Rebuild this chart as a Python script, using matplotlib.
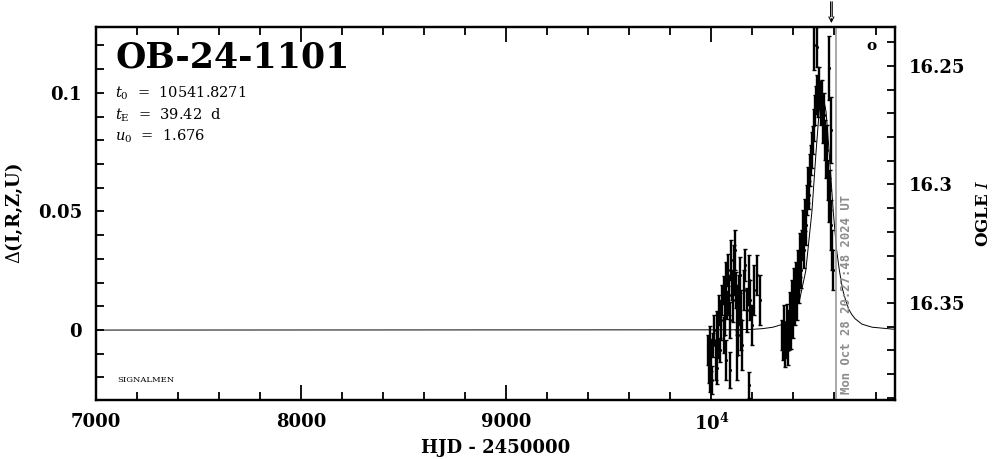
import matplotlib
matplotlib.use("Agg")
import matplotlib.pyplot as plt
from matplotlib.ticker import MultipleLocator, FixedLocator, FixedFormatter

plt.rcParams['font.family'] = ['DejaVu Serif']
plt.rcParams['mathtext.fontset'] = 'dejavuserif'

'''DATA'''
event_name = "OB-24-1101"
param_lines = [r"$t_0$  =  10541.8271", r"$t_{\rm E}$  =  39.42  d", r"$u_0$  =  1.676"]
date_stamp = "Mon Oct 28 20:27:48 2024 UT"

# photometry: HJD-2450000, delta, error
hjd = [9981, 9986, 9991, 9995, 10000, 10005, 10010, 10015, 10020, 10025,
       10029, 10034, 10039, 10044, 10049, 10054, 10059, 10063, 10068, 10073,
       10078, 10083, 10088, 10093, 10097, 10102, 10107, 10112, 10117, 10122,
       10127, 10131, 10136, 10141, 10146, 10151, 10160, 10165, 10175, 10185,
       10190, 10199, 10209, 10224, 10238, 10073, 10093, 10127, 10185,
       10345, 10350, 10355, 10360, 10364, 10369, 10374, 10379, 10384, 10389,
       10393, 10398, 10403, 10408, 10413, 10418, 10423, 10427, 10432, 10437,
       10442, 10447, 10452, 10457, 10461, 10466, 10471, 10476, 10481, 10486,
       10491, 10495, 10500, 10505, 10510, 10515, 10520, 10525, 10529, 10534,
       10539, 10544, 10549, 10554, 10558, 10563, 10568, 10573, 10578, 10583,
       10588, 10592, 10500, 10515, 10573, 10583]
delta = [-0.0084, -0.0148, -0.0042, -0.0177, -0.0105, -0.0211, -0.0063, 0.0000, -0.0127, 0.0021,
         -0.0160, -0.0042, 0.0084, -0.0084, 0.0042, 0.0127, -0.0021, 0.0169, 0.0063, 0.0211,
         0.0105, 0.0253, 0.0148, 0.0042, 0.0295, 0.0190, 0.0127, 0.0253, 0.0338, 0.0169,
         0.0084, -0.0021, 0.0127, 0.0232, 0.0042, -0.0063, 0.0169, 0.0274, 0.0084, 0.0211,
         0.0127, 0.0021, 0.0169, 0.0232, 0.0127, -0.0127, -0.0169, -0.0105, -0.0232,
         -0.0021, -0.0063, 0.0021, -0.0105, -0.0042, 0.0042, -0.0084, 0.0000, 0.0084, -0.0021,
         0.0127, 0.0042, 0.0169, 0.0105, 0.0211, 0.0148, 0.0253, 0.0190, 0.0316, 0.0253,
         0.0359, 0.0422, 0.0338, 0.0485, 0.0443, 0.0549, 0.0612, 0.0570, 0.0675, 0.0717,
         0.0759, 0.0802, 0.0865, 0.0928, 0.0970, 0.1013, 0.0949, 0.1034, 0.0992, 0.0928,
         0.0970, 0.0865, 0.0907, 0.0802, 0.0717, 0.0759, 0.0633, 0.0549, 0.0591, 0.0443,
         0.0338, 0.0253, 0.1203, 0.1194, 0.1105, 0.0844]
delta_err = [0.0063, 0.0076, 0.0059, 0.0084, 0.0068, 0.0059, 0.0051, 0.0063, 0.0084, 0.0059,
             0.0068, 0.0076, 0.0063, 0.0051, 0.0084, 0.0063, 0.0076, 0.0059, 0.0084, 0.0076,
             0.0059, 0.0068, 0.0084, 0.0076, 0.0084, 0.0063, 0.0093, 0.0105, 0.0084, 0.0076,
             0.0105, 0.0084, 0.0105, 0.0076, 0.0127, 0.0105, 0.0084, 0.0068, 0.0093, 0.0105,
             0.0084, 0.0084, 0.0105, 0.0084, 0.0105, 0.0084, 0.0076, 0.0105, 0.0055,
             0.0063, 0.0063, 0.0084, 0.0051, 0.0076, 0.0068, 0.0063, 0.0084, 0.0076, 0.0059,
             0.0084, 0.0076, 0.0093, 0.0084, 0.0076, 0.0105, 0.0084, 0.0076, 0.0093, 0.0076,
             0.0063, 0.0084, 0.0076, 0.0068, 0.0084, 0.0063, 0.0076, 0.0059, 0.0068, 0.0063,
             0.0076, 0.0059, 0.0068, 0.0063, 0.0059, 0.0063, 0.0051, 0.0076, 0.0059, 0.0063,
             0.0084, 0.0076, 0.0093, 0.0084, 0.0076, 0.0105, 0.0084, 0.0093, 0.0084, 0.0105,
             0.0084, 0.0084, 0.0105, 0.0084, 0.0135, 0.0139]

# model curve
model_hjd = [7000, 10100, 10200, 10250, 10300, 10350, 10400, 10430, 10460, 10490,
             10510, 10525, 10542, 10559, 10574, 10594, 10610, 10624, 10640, 10654,
             10670, 10684, 10700, 10734, 10760, 10784, 10895]
model_delta = [0.0, 0.0001, 0.0003, 0.0006, 0.0012, 0.0025, 0.0066, 0.0127, 0.025, 0.050,
               0.075, 0.092, 0.0996, 0.092, 0.075, 0.050, 0.034, 0.025, 0.017, 0.0127,
               0.0087, 0.0066, 0.0048, 0.0025, 0.0018, 0.0012, 0.0003]

now_hjd = 10605      # grey vertical line
arrow_hjd = 10585    # arrow on top
mag_zero = 16.3614   # OGLE I at delta = 0

x_range = (7000, 10895)
y_range = (-0.0295, 0.1278)

'''PLOT'''
fig = plt.figure(figsize=(9.99, 4.59), dpi=100)
ax = fig.add_axes([0.0961, 0.1285, 0.7998, 0.8127])

ax.plot(model_hjd, model_delta, color='black', lw=0.7, zorder=2)
ax.errorbar(hjd, delta, yerr=delta_err, fmt='.', color='black', ms=2.5,
            elinewidth=1.7, capsize=1.3, capthick=1.0, zorder=3)

ax.axvline(now_hjd, color='#999999', lw=1.2, zorder=4)
ax.text(now_hjd + 22, -0.027, date_stamp, rotation=90, color='#8c8c8c',
        fontsize=8.8, fontweight='bold', family='DejaVu Sans Mono',
        ha='left', va='bottom', zorder=5)

# double-shafted arrow above the frame
for dx in (-4, 4):
    ax.annotate('', xy=(arrow_hjd + dx, 1.02), xytext=(arrow_hjd + dx, 1.075),
                xycoords=('data', 'axes fraction'), textcoords=('data', 'axes fraction'),
                arrowprops=dict(arrowstyle='-', lw=0.8, color='black'))
ax.annotate('', xy=(arrow_hjd, 1.003), xytext=(arrow_hjd, 1.03),
            xycoords=('data', 'axes fraction'), textcoords=('data', 'axes fraction'),
            arrowprops=dict(arrowstyle='->', lw=0.8, color='black',
                            mutation_scale=9))

ax.text(0.971, 0.948, 'o', transform=ax.transAxes, fontsize=11,
        fontweight='bold', ha='center', va='center')

ax.set_xlim(*x_range)
ax.set_ylim(*y_range)

ax.text(0.024, 0.965, event_name, transform=ax.transAxes, fontsize=25,
        fontweight='bold', ha='left', va='top')
for i, line in enumerate(param_lines):
    ax.text(0.024, 0.81 - i * 0.057, line, transform=ax.transAxes,
            fontsize=10.5, ha='left', va='baseline')
ax.text(0.026, 0.055, "SIGNALMEN", transform=ax.transAxes, fontsize=6,
        ha='left', va='center')

# ticks
ax.xaxis.set_major_locator(FixedLocator([7000, 8000, 9000, 10000]))
ax.xaxis.set_major_formatter(FixedFormatter(['7000', '8000', '9000', r'$\mathbf{10^4}$']))
ax.xaxis.set_minor_locator(MultipleLocator(200))
ax.yaxis.set_major_locator(FixedLocator([0, 0.05, 0.1]))
ax.yaxis.set_major_formatter(FixedFormatter(['0', '0.05', '0.1']))
ax.yaxis.set_minor_locator(MultipleLocator(0.01))

ax.tick_params(axis='x', which='both', direction='in', top=True, bottom=True,
               labelsize=13, pad=9, width=1.3)
ax.tick_params(axis='x', which='major', length=11)
ax.tick_params(axis='x', which='minor', length=6)
ax.tick_params(axis='y', which='both', direction='in', left=True, right=False,
               labelsize=13, pad=10, width=1.3, length=6)
for lab in ax.get_xticklabels() + ax.get_yticklabels():
    lab.set_fontweight('bold')

for sp in ax.spines.values():
    sp.set_linewidth(1.6)

ax.set_xlabel("HJD - 2450000", fontsize=13, fontweight='bold', labelpad=4)
ax.set_ylabel(r"$\Delta$(I,R,Z,U)", fontsize=13, fontweight='bold', labelpad=9)

# right magnitude axis
ax2 = ax.twinx()
ax2.set_ylim(mag_zero - y_range[0], mag_zero - y_range[1])
ax2.yaxis.set_major_locator(FixedLocator([16.25, 16.30, 16.35]))
ax2.yaxis.set_major_formatter(FixedFormatter(['16.25', '16.3', '16.35']))
ax2.yaxis.set_minor_locator(MultipleLocator(0.01))
ax2.tick_params(axis='y', which='both', direction='in', right=True, left=False,
                labelsize=13, pad=10, width=1.3, length=6)
for lab in ax2.get_yticklabels():
    lab.set_fontweight('bold')
ax2.set_ylabel(r"OGLE $I$", fontsize=12, fontweight='bold', rotation=90, labelpad=7)
for sp in ax2.spines.values():
    sp.set_linewidth(1.6)

fig.savefig("out.png", dpi=100)
